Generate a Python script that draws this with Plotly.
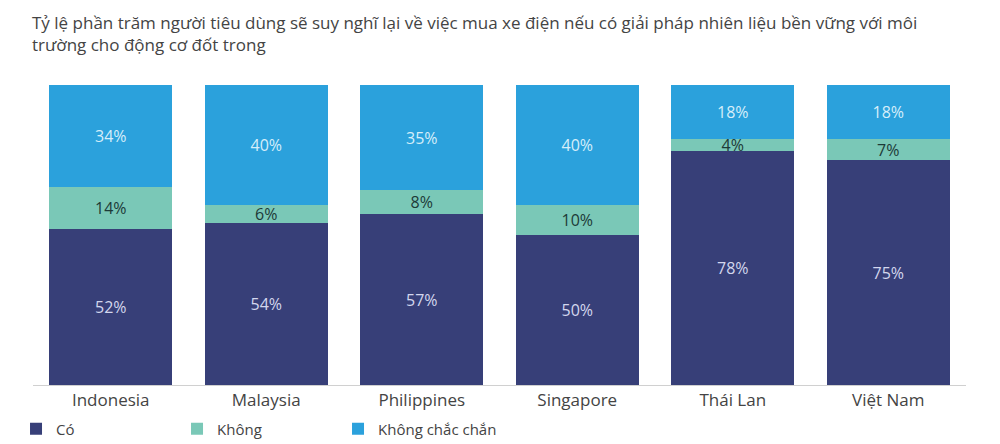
import plotly.graph_objects as go

categories = ["Indonesia", "Malaysia", "Philippines", "Singapore", "Thái Lan", "Việt Nam"]
co = [52, 54, 57, 50, 78, 75]
khong = [14, 6, 8, 10, 4, 7]
khong_chac = [34, 40, 35, 40, 18, 18]

series = [
    ("Có", co, "#373f78", "#d3d7ee"),
    ("Không", khong, "#7ac8b7", "#1d3a38"),
    ("Không chắc chắn", khong_chac, "#2ba1dc", "#d6eefa"),
]

title_text = ("Tỷ lệ phần trăm người tiêu dùng sẽ suy nghĩ lại về việc mua xe điện nếu có giải pháp nhiên liệu bền vững với môi"
              "<br>trường cho động cơ đốt trong")

FONT = "Open Sans"
fig = go.Figure()
for name, vals, color, tcolor in series:
    fig.add_trace(go.Bar(
        x=categories, y=vals, name=name,
        marker=dict(color=color, line=dict(width=0)),
        text=[f"{v}%" for v in vals],
        textposition="inside", insidetextanchor="middle",
        textfont=dict(family=FONT, size=16, color=tcolor),
        constraintext="none",
        hoverinfo="skip",
    ))

fig.add_annotation(
    text=title_text, xref="paper", yref="paper",
    x=-0.0035, y=1.255, xanchor="left", yanchor="top", align="left",
    showarrow=False, font=dict(family=FONT, size=17, color="#444"),
)

fig.update_layout(
    barmode="stack",
    bargap=0.21,
    width=992, height=436,
    margin=dict(l=25, r=34, t=77, b=59, autoexpand=False),
    paper_bgcolor="white", plot_bgcolor="white",
    font=dict(family=FONT, color="#444"),
    uniformtext=dict(mode="show", minsize=16),
    xaxis=dict(showline=True, linecolor="#d0d0d0", linewidth=1,
               tickfont=dict(family=FONT, size=17, color="#444"),
               ticks="", showgrid=False),
    yaxis=dict(range=[0, 100], visible=False, showgrid=False),
    legend=dict(orientation="h", x=-0.0182, xanchor="left", y=-0.147, yanchor="middle",
                font=dict(family=FONT, size=15, color="#444"),
                entrywidth=116, traceorder="normal", itemclick=False),
    showlegend=True,
)
fig.write_html("out.html")
